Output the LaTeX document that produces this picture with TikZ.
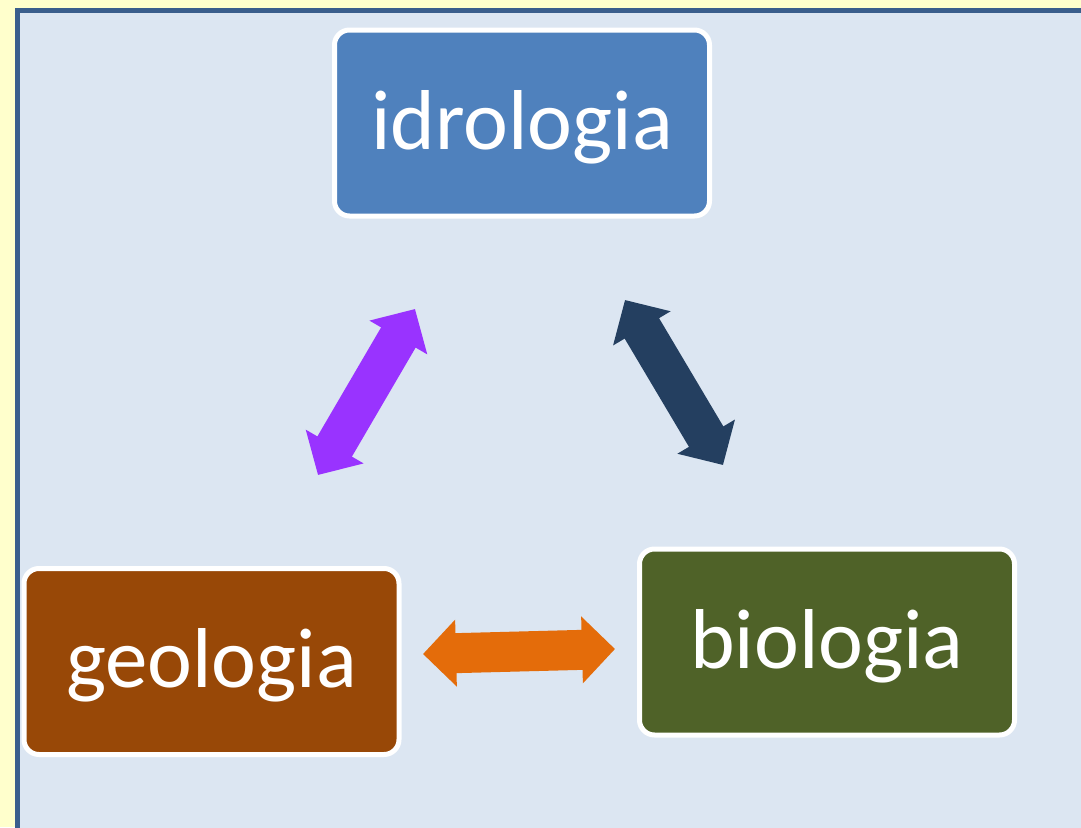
\documentclass[tikz,border=0pt]{standalone}
\usepackage{fontspec}
\setmainfont{Carlito}
\usetikzlibrary{arrows.meta}
\definecolor{bgyellow}{HTML}{FFFFCC}
\definecolor{panelfill}{HTML}{DCE6F2}
\definecolor{panelline}{HTML}{3A5E8C}
\definecolor{boxblue}{HTML}{4F81BD}
\definecolor{boxbrown}{HTML}{984807}
\definecolor{boxgreen}{HTML}{4F6228}
\definecolor{arrpurple}{HTML}{9933FF}
\definecolor{arrnavy}{HTML}{243F60}
\definecolor{arrorange}{HTML}{E46C0A}
\tikzset{
  topic/.style={draw=white, line width=5pt, rounded corners=15pt,
    minimum width=375pt, minimum height=186pt, text=white,
    font=\fontsize{85}{92}\selectfont, text height=60pt, text depth=8pt,
    inner sep=0pt, outer sep=0pt},
  blockarrow/.style={line width=40pt,
    {Triangle[length=33pt,width=65pt]}-{Triangle[length=33pt,width=65pt]}}
}
\begin{document}
\begin{tikzpicture}[x=1pt,y=-1pt]
\useasboundingbox (0,0) rectangle (1081,827);
\fill[bgyellow] (0,0) rectangle (1081,827);
\begin{scope}
\clip (0,0) rectangle (1081,827);
\draw[panelline, line width=5pt, fill=panelfill] (17,10) rectangle (1095,845);
\end{scope}
\node[topic, fill=boxblue] (idro) at (522,123) {idrologia};
\node[topic, fill=boxbrown] (geo) at (211.5,661.5) {geologia};
\node[topic, fill=boxgreen] (bio) at (827,642) {biologia};
\coordinate (pa) at (415,309);
\coordinate (pb) at (318,475);
\coordinate (na) at (625,300);
\coordinate (nb) at (723,465);
\coordinate (oa) at (423,654);
\coordinate (ob) at (615,649);
\draw[blockarrow, arrpurple] (pb) -- (pa);
\draw[blockarrow, arrnavy] (na) -- (nb);
\draw[blockarrow, arrorange] (oa) -- (ob);
\end{tikzpicture}
\end{document}
